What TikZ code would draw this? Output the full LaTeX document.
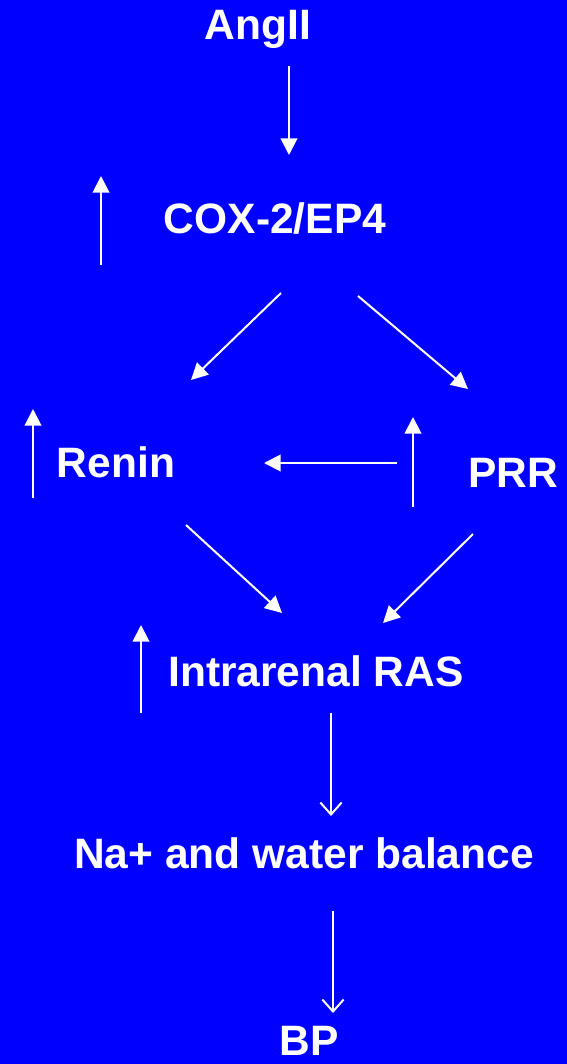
\documentclass[tikz,border=0pt]{standalone}
\usepackage{fontspec}
\setmainfont{Liberation Sans}
\usetikzlibrary{arrows.meta}
\definecolor{bg}{RGB}{0,0,255}
\begin{document}
\begin{tikzpicture}[x=0.75pt,y=-0.75pt,
  lbl/.style={text=white,font=\bfseries\fontsize{31.9pt}{38pt}\selectfont,inner sep=0pt,anchor=base},
  solid arrow/.style={draw=white,line width=1.5pt,-{Triangle[length=12.5pt,width=12.5pt]}},
  open arrow/.style={draw=white,line width=1.5pt,-{Straight Barb[length=9pt,width=16pt,line width=1.5pt]}}]
  \fill[bg] (0,0) rectangle (567,1064);
  \useasboundingbox (0,0) rectangle (567,1064);

  % labels
  \node[lbl] (ang) at (258,39) {AngII};
  \node[lbl] (cox) at (275,233) {COX-2/EP4};
  \node[lbl] (ren) at (116,477) {Renin};
  \node[lbl] (prr) at (513,487) {PRR};
  \node[lbl] (ras) at (316,686) {Intrarenal RAS};
  \node[lbl] (na) at (304,868) {Na+ and water balance};
  \node[lbl] (bp) at (309,1055) {BP};

  % connector end points
  \coordinate (a1s) at (289,66);  \coordinate (a1e) at (289,155);
  \coordinate (u1s) at (101,265); \coordinate (u1e) at (101,176);
  \coordinate (a2s) at (281,293); \coordinate (a2e) at (191,380);
  \coordinate (a3s) at (358,296); \coordinate (a3e) at (468,389);
  \coordinate (u2s) at (33,498);  \coordinate (u2e) at (33,409);
  \coordinate (hs) at (397,463);  \coordinate (he) at (264,463);
  \coordinate (u3s) at (413,507); \coordinate (u3e) at (413,417);
  \coordinate (a4s) at (186,525); \coordinate (a4e) at (282,613);
  \coordinate (a5s) at (473,534); \coordinate (a5e) at (383,623);
  \coordinate (u4s) at (141,713); \coordinate (u4e) at (141,625);
  \coordinate (a6s) at (331,713); \coordinate (a6e) at (331,816);
  \coordinate (a7s) at (333,911); \coordinate (a7e) at (333,1013);

  % connectors
  \draw[solid arrow] (a1s) -- (a1e);
  \draw[solid arrow] (u1s) -- (u1e);
  \draw[solid arrow] (a2s) -- (a2e);
  \draw[solid arrow] (a3s) -- (a3e);
  \draw[solid arrow] (u2s) -- (u2e);
  \draw[solid arrow] (hs) -- (he);
  \draw[solid arrow] (u3s) -- (u3e);
  \draw[solid arrow] (a4s) -- (a4e);
  \draw[solid arrow] (a5s) -- (a5e);
  \draw[solid arrow] (u4s) -- (u4e);
  \draw[open arrow] (a6s) -- (a6e);
  \draw[open arrow] (a7s) -- (a7e);
\end{tikzpicture}
\end{document}
